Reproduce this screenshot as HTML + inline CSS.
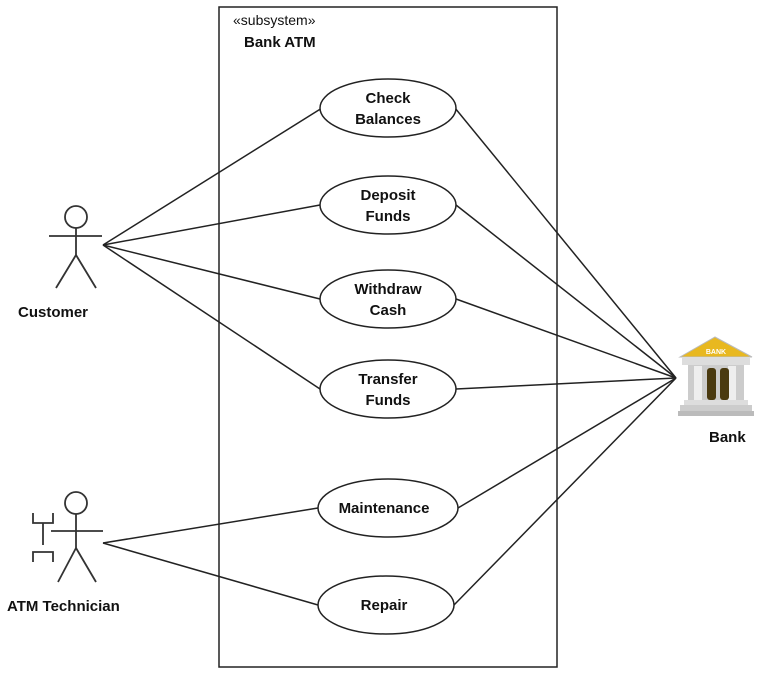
<!DOCTYPE html>
<html><head><style>body{margin:0;background:#fff}svg{display:block}text{font-family:"Liberation Sans",sans-serif;font-weight:bold;font-size:15px;fill:#111}</style></head><body>
<svg width="782" height="677" viewBox="0 0 782 677">
<g stroke="#222" stroke-width="1.5" fill="none">
<rect x="219" y="7" width="338" height="660"/>
<line x1="103" y1="245" x2="322" y2="108"/>
<line x1="103" y1="245" x2="320" y2="205"/>
<line x1="103" y1="245" x2="320" y2="299"/>
<line x1="103" y1="245" x2="320" y2="389"/>
<line x1="103" y1="543" x2="318" y2="508"/>
<line x1="103" y1="543" x2="318" y2="605"/>
<line x1="676" y1="378" x2="455" y2="108"/>
<line x1="676" y1="378" x2="456" y2="205"/>
<line x1="676" y1="378" x2="456" y2="299"/>
<line x1="676" y1="378" x2="456" y2="389"/>
<line x1="676" y1="378" x2="458" y2="508"/>
<line x1="676" y1="378" x2="454" y2="605"/>
</g>
<g stroke="#222" stroke-width="1.5" fill="#fff">
<ellipse cx="388" cy="108" rx="68" ry="29"/>
<ellipse cx="388" cy="205" rx="68" ry="29"/>
<ellipse cx="388" cy="299" rx="68" ry="29"/>
<ellipse cx="388" cy="389" rx="68" ry="29"/>
<ellipse cx="388" cy="508" rx="70" ry="29"/>
<ellipse cx="386" cy="605" rx="68" ry="29"/>
</g>
<g stroke="#333" stroke-width="1.8" fill="none">
<circle cx="76" cy="217" r="11"/>
<line x1="76" y1="228" x2="76" y2="255"/><line x1="49" y1="236" x2="102" y2="236"/>
<line x1="76" y1="255" x2="56" y2="288"/><line x1="76" y1="255" x2="96" y2="288"/>
<circle cx="76" cy="503" r="11"/>
<line x1="76" y1="514" x2="76" y2="548"/><line x1="51" y1="531" x2="103" y2="531"/>
<line x1="76" y1="548" x2="58" y2="582"/><line x1="76" y1="548" x2="96" y2="582"/>
<path d="M33 513 V523 H53 V513 M43 523 V545 M33 562 V552 H53 V562"/>
</g>
<text x="18" y="317">Customer</text>
<text x="7" y="611">ATM Technician</text>
<text x="709" y="442">Bank</text>
<text x="233" y="25" style="font-weight:normal;font-size:14px">«subsystem»</text>
<text x="244" y="47">Bank ATM</text>
<g text-anchor="middle">
<text x="388" y="103">Check</text><text x="388" y="124">Balances</text>
<text x="388" y="200">Deposit</text><text x="388" y="221">Funds</text>
<text x="388" y="294">Withdraw</text><text x="388" y="315">Cash</text>
<text x="388" y="384">Transfer</text><text x="388" y="405">Funds</text>
<text x="384" y="513">Maintenance</text>
<text x="384" y="610">Repair</text>
</g>
<!-- bank icon -->
<polygon points="680,357 715,337 752,357" fill="#e8b820" stroke="#bbb"/>
<text x="716" y="354" text-anchor="middle" style="font-size:7px;fill:#fff">BANK</text>
<rect x="682" y="357" width="68" height="8" fill="#ddd"/>
<rect x="688" y="365" width="56" height="35" fill="#ccc"/>
<rect x="694" y="366" width="8" height="34" fill="#eee"/><rect x="728" y="366" width="8" height="34" fill="#eee"/>
<rect x="707" y="368" width="9" height="32" rx="3" fill="#4a3a10"/><rect x="720" y="368" width="9" height="32" rx="3" fill="#4a3a10"/>
<rect x="684" y="400" width="64" height="5" fill="#ddd"/>
<rect x="680" y="405" width="72" height="6" fill="#ccc"/>
<rect x="678" y="411" width="76" height="5" fill="#bbb"/>
</svg>
</body></html>
